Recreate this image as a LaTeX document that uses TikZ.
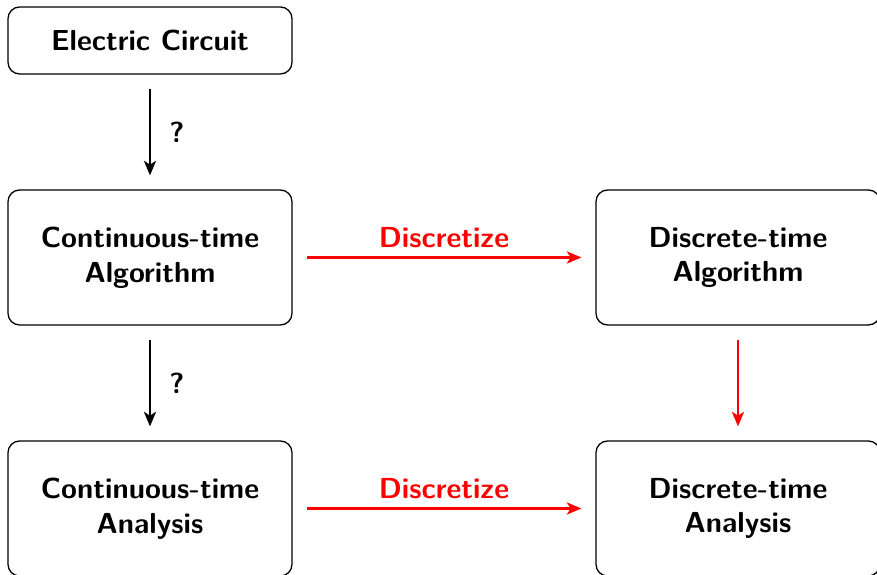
\documentclass[tikz,border=0pt]{standalone}
\usetikzlibrary{arrows.meta}
\newlength\pxu
\setlength\pxu{0.345pt}
\begin{document}
\begin{tikzpicture}[x=\pxu, y=-\pxu,
  font=\sffamily\bfseries,
  box/.style={draw, rounded corners=4pt, line width=0.45pt, align=center,
    inner sep=0pt, minimum width=284\pxu, minimum height=135\pxu},
  flow/.style={line width=0.75pt, -{Stealth[length=5pt,width=4.2pt,inset=1.3pt]},
    shorten <=14\pxu, shorten >=14\pxu},
  redflow/.style={flow, red},
  qlabel/.style={midway, xshift=27\pxu},
  dlabel/.style={midway, yshift=20\pxu, text=red}]
  \useasboundingbox (0,0) rectangle (877,575);
  \clip (0,0) rectangle (877,575);

  \node[box, minimum height=67\pxu] (circ) at (150,40.5) {Electric Circuit};
  \node[box] (calg) at (150,257.5) {Continuous-time\\Algorithm};
  \node[box] (dalg) at (738,257.5) {Discrete-time\\Algorithm};
  \node[box] (cana) at (150,508.5) {Continuous-time\\Analysis};
  \node[box] (dana) at (738,508.5) {Discrete-time\\Analysis};

  \draw[flow] (circ) -- node[qlabel] {?} (calg);
  \draw[flow] (calg) -- node[qlabel] {?} (cana);
  \draw[redflow] (calg) -- node[dlabel] {Discretize} (dalg);
  \draw[redflow] (cana) -- node[dlabel] {Discretize} (dana);
  \draw[redflow] (dalg) -- (dana);
\end{tikzpicture}
\end{document}
